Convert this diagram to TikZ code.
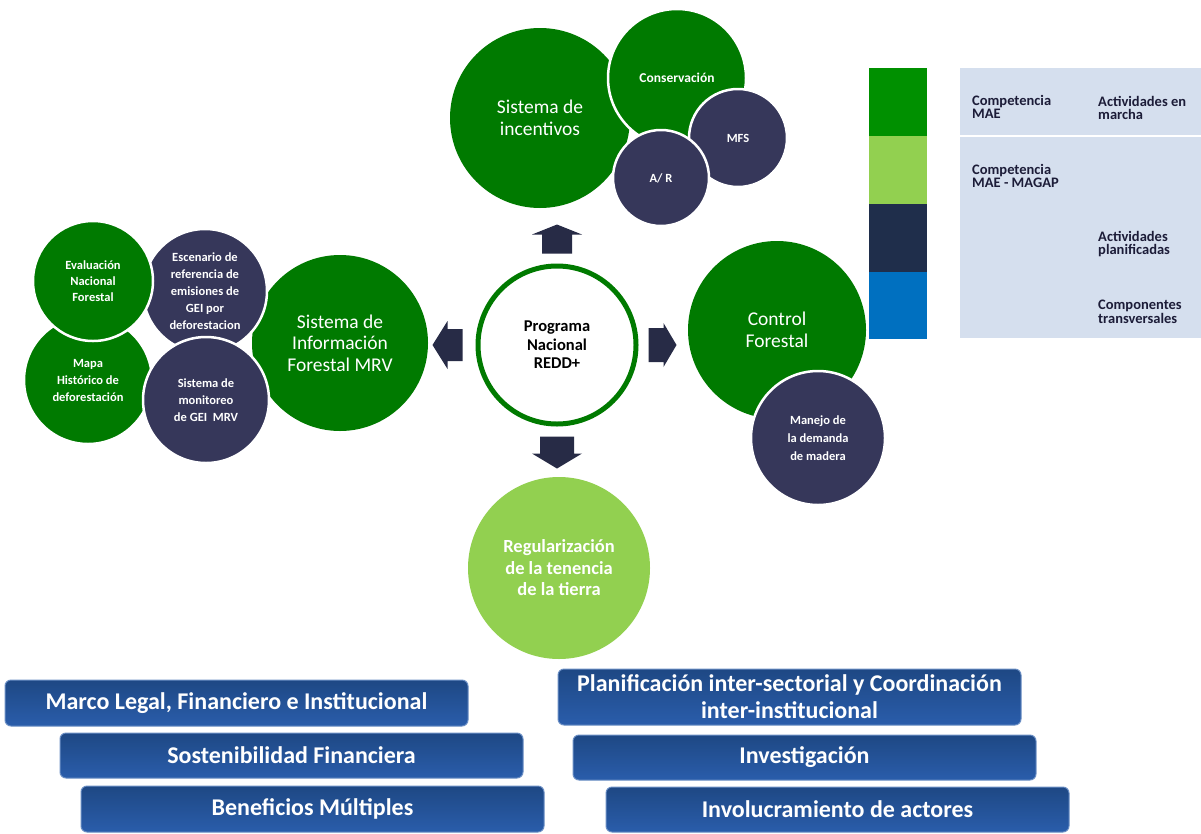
\documentclass[tikz,border=0pt]{standalone}
\usepackage{fontspec}
\setmainfont{Carlito}
\definecolor{dgreen}{HTML}{007A00}
\definecolor{lgreen}{HTML}{92D050}
\definecolor{navyc}{HTML}{36375A}
\definecolor{arrowc}{HTML}{272B46}
\definecolor{legg}{HTML}{009000}
\definecolor{legn}{HTML}{1F2E4B}
\definecolor{legb}{HTML}{0070C0}
\definecolor{panel}{HTML}{D5DFEE}
\definecolor{bartop}{HTML}{1E4884}
\definecolor{barbot}{HTML}{2A5DAB}
\definecolor{legtext}{HTML}{1C1C38}
\tikzset{
  bub/.style={circle, inner sep=0pt, align=center, text=white, draw=white, line width=2.5pt},
  biggreen/.style={bub, fill=dgreen, font=\fontsize{19.5}{21.5}\selectfont},
  smallgreen/.style={bub, fill=dgreen, font=\bfseries\fontsize{12.5}{17}\selectfont},
  smallnavy/.style={bub, fill=navyc, font=\bfseries\fontsize{12.5}{17}\selectfont},
  bararrow/.style={fill=arrowc},
  bar/.style={rounded corners=6pt, top color=bartop, bottom color=barbot, draw=barbot!70!white, line width=1pt,
     minimum width=463pt, text=white, font=\bfseries\fontsize{24}{27}\selectfont, align=center, inner sep=0pt},
  legtxt/.style={anchor=west, align=left, text=legtext, font=\bfseries\fontsize{14.5}{13.5}\selectfont, inner sep=0pt}
}
\begin{document}
\begin{tikzpicture}[x=1pt,y=-1pt]
\useasboundingbox (0,0) rectangle (1201,833);
\fill[white] (0,0) rectangle (1201,833);

% ---- legend ----
\node[fill=legg, minimum width=58pt, minimum height=68pt, inner sep=0pt, anchor=north west] (lg1) at (869,68) {};
\node[fill=lgreen, minimum width=58pt, minimum height=68pt, inner sep=0pt, anchor=north west] (lg2) at (869,136) {};
\node[fill=legn, minimum width=58pt, minimum height=68pt, inner sep=0pt, anchor=north west] (lg3) at (869,204) {};
\node[fill=legb, minimum width=58pt, minimum height=67pt, inner sep=0pt, anchor=north west] (lg4) at (869,272) {};
\node[fill=panel, minimum width=241pt, minimum height=270pt, inner sep=0pt, anchor=north west] (pan) at (960,68) {};
\draw[white, line width=1.5pt] (pan.west |- lg2.north) -- (pan.east |- lg2.north);
\node[legtxt] (l1) at (972,107) {Competencia\\MAE};
\node[legtxt] (l2) at (1098,108) {Actividades en\\marcha};
\node[legtxt] (l3) at (972,176) {Competencia\\MAE - MAGAP};
\node[legtxt] (l4) at (1098,244) {Actividades\\planificadas};
\node[legtxt] (l5) at (1098,312) {Componentes\\transversales};

% ---- top cluster ----
\node[biggreen, draw=none, minimum size=180pt] (inc) at (540,118) {Sistema de\\incentivos};
\node[smallgreen, minimum size=138pt, font=\bfseries\fontsize{13.5}{17}\selectfont] (cons) at (677,78) {Conservación};
\node[smallnavy, minimum size=98pt] (mfs) at (738,138) {MFS};
\node[smallnavy, minimum size=96pt] (ar) at (661,178) {A/ R};

% ---- left cluster ----
\node[biggreen, draw=none, minimum size=176pt] (sif) at (340,343) {Sistema de\\Información\\Forestal MRV};
\node[smallnavy, minimum size=124pt] (esc) at (205,291) {Escenario de\\referencia de\\emisiones de\\GEI por\\deforestacion};
\node[smallgreen, minimum size=128pt] (mapa) at (88,380) {Mapa\\Histórico de\\deforestación};
\node[smallgreen, minimum size=120pt, font=\bfseries\fontsize{12.5}{16}\selectfont] (eval) at (93,281) {Evaluación\\Nacional\\Forestal};
\node[smallnavy, minimum size=126pt] (mon) at (206,400) {Sistema de\\monitoreo\\de GEI~~MRV};

% ---- right cluster ----
\node[biggreen, draw=none, minimum size=178pt] (ctrl) at (777,330) {Control\\Forestal};
\node[smallnavy, minimum size=134pt, font=\bfseries\fontsize{12.5}{18}\selectfont] (man) at (818,438) {Manejo de\\la demanda\\de madera};

% ---- bottom circle ----
\node[biggreen, draw=none, fill=lgreen, minimum size=182pt, font=\bfseries\fontsize{18.5}{21.5}\selectfont] (reg) at (559,568) {Regularización\\de la tenencia\\de la tierra};

% ---- centre ----
\node[circle, draw=dgreen, line width=5pt, fill=white, minimum size=158pt, inner sep=0pt, align=center,
      font=\bfseries\fontsize{16.5}{18.5}\selectfont] (prog) at (557,345) {Programa\\Nacional\\REDD+};

% ---- arrows ----
\fill[bararrow] (prog.north) ++(0,-39) -- ++(25,10) -- ++(-10,0) -- ++(0,19) -- ++(-30,0) -- ++(0,-19) -- ++(-10,0) -- cycle;
\fill[bararrow] (prog.south) ++(0,42) -- ++(25,-15) -- ++(-8,0) -- ++(0,-17) -- ++(-34,0) -- ++(0,17) -- ++(-8,0) -- cycle;
\fill[bararrow] (prog.west) ++(-43,0) -- ++(15,-24) -- ++(0,8) -- ++(15,0) -- ++(0,32) -- ++(-15,0) -- ++(0,8) -- cycle;
\fill[bararrow] (prog.east) ++(38,0) -- ++(-13,-22) -- ++(0,5) -- ++(-15,0) -- ++(0,34) -- ++(15,0) -- ++(0,5) -- cycle;

% ---- bars ----
\node[bar, minimum height=46pt] (b1) at (236.5,703) {Marco Legal, Financiero e Institucional};
\node[bar, minimum height=45pt] (b2) at (291.5,755.5) {Sostenibilidad Financiera};
\node[bar, minimum height=46pt] (b3) at (312.5,809) {Beneficios Múltiples};
\node[bar, minimum height=56pt] (b4) at (789.5,697) {Planificación inter-sectorial y Coordinación\\inter-institucional};
\node[bar, minimum height=45pt] (b5) at (804.5,757.5) {Investigación};
\node[bar, minimum height=45pt] (b6) at (837.5,809.5) {Involucramiento de actores};
\end{tikzpicture}
\end{document}
